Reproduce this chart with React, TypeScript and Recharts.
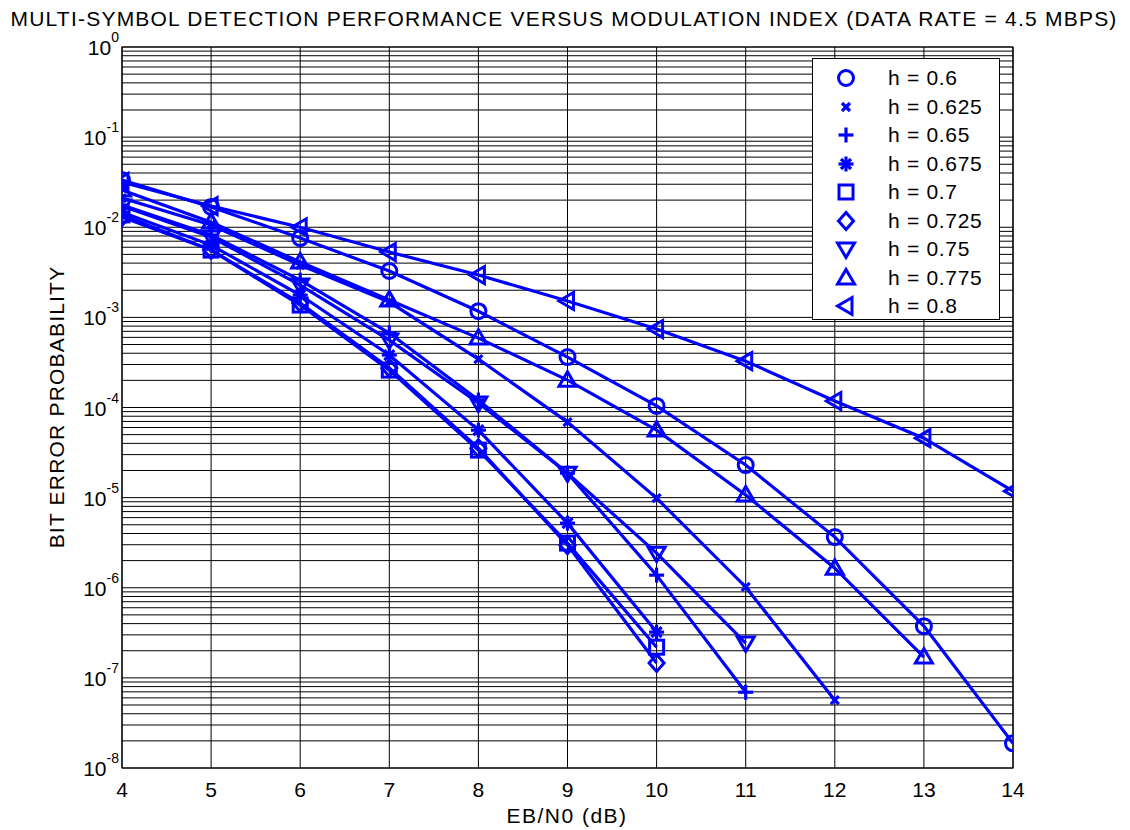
import React from "react";
import {
  CartesianGrid,
  Legend,
  Line,
  LineChart,
  ReferenceArea,
  XAxis,
  YAxis,
} from "recharts";

// Eb/N0 in dB
const ebn0 = [4, 5, 6, 7, 8, 9, 10, 11, 12, 13, 14];

// bit error probability per modulation index
const ber060 = [0.0334, 0.0168, 0.00759, 0.00327, 0.00117, 0.000363, 0.000104, 2.3e-5, 3.65e-6, 3.75e-7, 1.88e-8];
const ber0625 = [0.0211, 0.0106, 0.0038, 0.00148, 0.000345, 6.89e-5, 9.87e-6, 1.02e-6, 5.65e-8];
const ber065 = [0.0176, 0.00819, 0.00259, 0.00067, 0.000121, 1.87e-5, 1.38e-6, 6.93e-8];
const ber0675 = [0.0147, 0.00634, 0.00177, 0.000382, 5.61e-5, 5.21e-6, 3.22e-7];
const ber070 = [0.0137, 0.00558, 0.00137, 0.00026, 3.37e-5, 3.13e-6, 2.19e-7];
const ber0725 = [0.013, 0.00558, 0.00144, 0.000274, 3.54e-5, 2.97e-6, 1.46e-7];
const ber075 = [0.0172, 0.0078, 0.00228, 0.00056, 0.000112, 1.87e-5, 2.42e-6, 2.43e-7];
const ber0775 = [0.0259, 0.0114, 0.00411, 0.00156, 0.000589, 0.000201, 5.61e-5, 1.07e-5, 1.65e-6, 1.7e-7];
const ber080 = [0.0318, 0.0172, 0.01, 0.00531, 0.00295, 0.00152, 0.000742, 0.000327, 0.000118, 4.57e-5, 1.18e-5];

const xTicks = [4, 5, 6, 7, 8, 9, 10, 11, 12, 13, 14];

const series = [
  { key: "h060", label: "h = 0.6", shape: "circle", values: ber060 },
  { key: "h0625", label: "h = 0.625", shape: "x", values: ber0625 },
  { key: "h065", label: "h = 0.65", shape: "plus", values: ber065 },
  { key: "h0675", label: "h = 0.675", shape: "star", values: ber0675 },
  { key: "h070", label: "h = 0.7", shape: "square", values: ber070 },
  { key: "h0725", label: "h = 0.725", shape: "diamond", values: ber0725 },
  { key: "h075", label: "h = 0.75", shape: "tdown", values: ber075 },
  { key: "h0775", label: "h = 0.775", shape: "tup", values: ber0775 },
  { key: "h080", label: "h = 0.8", shape: "tleft", values: ber080 },
];

const rows = ebn0.map((x, i) => {
  const row: Record<string, number | undefined> = { x };
  series.forEach((s) => {
    row[s.key] = s.values[i];
  });
  return row;
});

// log ticks 1..9 x 10^k, only the decades get a label
const gridY: number[] = [];
for (let e = -8; e < 0; e++) {
  for (let k = 1; k <= 9; k++) gridY.push(Number((k * Math.pow(10, e)).toPrecision(3)));
}
gridY.push(1);

const BLUE = "#0000ff";
const FONT = '"Liberation Sans", Arial, Helvetica, sans-serif';

function Marker({ shape, cx, cy }: { shape: string; cx: number; cy: number }) {
  const common = { stroke: BLUE, strokeWidth: 3, fill: "none" };
  switch (shape) {
    case "circle":
      return <circle cx={cx} cy={cy} r={7.5} {...common} />;
    case "x":
      return (
        <g {...common} strokeWidth={3.2}>
          <line x1={cx - 4} y1={cy - 4} x2={cx + 4} y2={cy + 4} />
          <line x1={cx - 4} y1={cy + 4} x2={cx + 4} y2={cy - 4} />
        </g>
      );
    case "plus":
      return (
        <g {...common} strokeWidth={3.2}>
          <line x1={cx - 7.5} y1={cy} x2={cx + 7.5} y2={cy} />
          <line x1={cx} y1={cy - 7.5} x2={cx} y2={cy + 7.5} />
        </g>
      );
    case "star":
      return (
        <g {...common} strokeWidth={3.2}>
          <line x1={cx - 7.5} y1={cy} x2={cx + 7.5} y2={cy} />
          <line x1={cx} y1={cy - 7.5} x2={cx} y2={cy + 7.5} />
          <line x1={cx - 5} y1={cy - 5} x2={cx + 5} y2={cy + 5} />
          <line x1={cx - 5} y1={cy + 5} x2={cx + 5} y2={cy - 5} />
        </g>
      );
    case "square":
      return <rect x={cx - 7} y={cy - 7} width={14} height={14} {...common} />;
    case "diamond":
      return (
        <polygon
          points={`${cx},${cy - 8.5} ${cx + 7.5},${cy} ${cx},${cy + 8.5} ${cx - 7.5},${cy}`}
          {...common}
        />
      );
    case "tdown":
      return (
        <polygon
          points={`${cx - 8.5},${cy - 6} ${cx + 8.5},${cy - 6} ${cx},${cy + 8.5}`}
          {...common}
        />
      );
    case "tup":
      return (
        <polygon
          points={`${cx - 8.5},${cy + 6} ${cx + 8.5},${cy + 6} ${cx},${cy - 8.5}`}
          {...common}
        />
      );
    case "tleft":
      return (
        <polygon
          points={`${cx - 8.5},${cy} ${cx + 6},${cy - 8.5} ${cx + 6},${cy + 8.5}`}
          {...common}
        />
      );
    default:
      return null;
  }
}

function makeDot(shape: string) {
  return (props: any) => {
    const { cx, cy, key, value } = props;
    if (cx == null || cy == null || value == null) return <g key={key} />;
    return (
      <g key={key}>
        <Marker shape={shape} cx={cx} cy={cy} />
      </g>
    );
  };
}

const YTick = (props: any) => {
  const { y, payload } = props;
  const exp = Math.log10(payload.value);
  if (Math.abs(exp - Math.round(exp)) > 1e-6) return <g />;
  return (
    <text x={111} y={y} textAnchor="end" fill="#000" fontFamily={FONT} fontSize={21}>
      <tspan dy={8}>10</tspan>
      <tspan dy={-13} fontSize={14}>
        {Math.round(exp)}
      </tspan>
    </text>
  );
};

const XTick = (props: any) => {
  const { x, payload } = props;
  return (
    <text x={x} y={789} textAnchor="middle" fill="#000" fontFamily={FONT} fontSize={21}>
      {payload.value}
    </text>
  );
};

const LegendBox = () => (
  <div
    style={{
      width: 188,
      height: 262,
      border: "1px solid #000",
      background: "#fff",
      boxSizing: "border-box",
      fontFamily: FONT,
      fontSize: 21,
      paddingTop: 5,
    }}
  >
    {series.map((s) => (
      <div key={s.key} style={{ display: "flex", alignItems: "center", height: 28.5 }}>
        <svg width={66} height={28} style={{ display: "block" }}>
          <Marker shape={s.shape} cx={33} cy={14} />
        </svg>
        <span style={{ marginLeft: 9, letterSpacing: 0.7 }}>{s.label}</span>
      </div>
    ))}
  </div>
);

export default function App() {
  return (
    <div style={{ position: "relative", width: 1122, height: 822, fontFamily: FONT }}>
      <div
        style={{
          position: "absolute",
          left: 0,
          top: -1,
          width: 1112,
          textAlign: "center",
          fontSize: 21,
          lineHeight: "24px",
          letterSpacing: 1.22,
          whiteSpace: "nowrap",
        }}
      >
        MULTI-SYMBOL DETECTION PERFORMANCE VERSUS MODULATION INDEX (DATA RATE = 4.5 MBPS)
      </div>
      <LineChart
        width={1122}
        height={822}
        data={rows}
        margin={{ top: 39, right: 117, bottom: 32, left: 0 }}
      >
        <CartesianGrid stroke="#000" strokeWidth={1} />
        <XAxis
          dataKey="x"
          type="number"
          domain={[4, 14]}
          ticks={xTicks}
          interval={0}
          tick={<XTick />}
          tickLine={false}
          axisLine={false}
          height={30}
          allowDataOverflow
        />
        <YAxis
          scale="log"
          type="number"
          domain={[1e-8, 1]}
          ticks={gridY}
          interval={0}
          tick={<YTick />}
          tickLine={false}
          axisLine={false}
          width={114}
          allowDataOverflow
        />
        <ReferenceArea
          x1={4}
          x2={14}
          y1={1e-8}
          y2={1}
          fill="none"
          stroke="#000"
          strokeWidth={1.2}
          fillOpacity={0}
        />
        {series.map((s) => (
          <Line
            key={s.key}
            dataKey={s.key}
            type="linear"
            stroke={BLUE}
            strokeWidth={3.2}
            dot={makeDot(s.shape)}
            activeDot={false}
            isAnimationActive={false}
            legendType="none"
          />
        ))}
        <Legend
          layout="vertical"
          align="center"
          verticalAlign="middle"
          content={<LegendBox />}
          wrapperStyle={{ left: 804, top: 50, width: 188, height: 262 }}
        />
      </LineChart>
      <div
        style={{
          position: "absolute",
          left: 0,
          top: 796,
          width: 1118,
          textAlign: "center",
          fontSize: 21,
          lineHeight: "24px",
          letterSpacing: 1.5,
        }}
      >
        EB/N0 (dB)
      </div>
      <div
        style={{
          position: "absolute",
          left: 49,
          top: 399,
          transform: "translate(-50%, -50%) rotate(-90deg)",
          whiteSpace: "nowrap",
          fontSize: 21,
          lineHeight: "24px",
          letterSpacing: 1.2,
        }}
      >
        BIT ERROR PROBABILITY
      </div>
    </div>
  );
}
